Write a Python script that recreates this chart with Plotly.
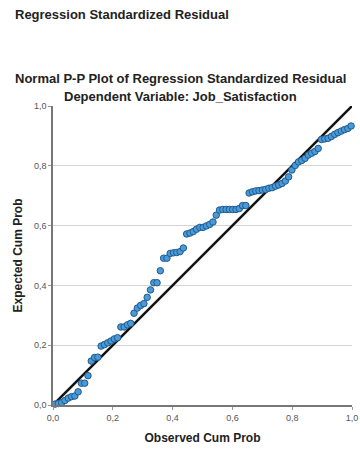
import plotly.graph_objects as go

observed_cum_prob = [
    0.007, 0.018, 0.029, 0.040, 0.051, 0.062, 0.073, 0.084, 0.095, 0.106,
    0.117, 0.128, 0.139, 0.150, 0.161, 0.172, 0.183, 0.194, 0.205, 0.216,
    0.227, 0.238, 0.249, 0.260, 0.271, 0.282, 0.293, 0.304, 0.315, 0.326,
    0.337, 0.348, 0.359, 0.370, 0.381, 0.392, 0.403, 0.414, 0.425, 0.436,
    0.447, 0.458, 0.469, 0.480, 0.491, 0.502, 0.513, 0.524, 0.535, 0.546,
    0.557, 0.568, 0.579, 0.590, 0.601, 0.612, 0.623, 0.634, 0.645, 0.656,
    0.667, 0.678, 0.689, 0.700, 0.711, 0.722, 0.733, 0.744, 0.755, 0.766,
    0.777, 0.788, 0.799, 0.810, 0.821, 0.832, 0.843, 0.854, 0.865, 0.876,
    0.887, 0.898, 0.909, 0.920, 0.931, 0.942, 0.953, 0.964, 0.975, 0.986,
    0.997,
]
expected_cum_prob = [
    0.003, 0.005, 0.008, 0.015, 0.023, 0.028, 0.030, 0.044, 0.073, 0.073,
    0.098, 0.147, 0.159, 0.160, 0.197, 0.202, 0.208, 0.214, 0.221, 0.225,
    0.261, 0.261, 0.268, 0.273, 0.307, 0.324, 0.333, 0.339, 0.360, 0.385,
    0.409, 0.409, 0.449, 0.491, 0.491, 0.507, 0.509, 0.510, 0.513, 0.525,
    0.572, 0.575, 0.580, 0.588, 0.594, 0.594, 0.599, 0.604, 0.612, 0.635,
    0.652, 0.654, 0.654, 0.654, 0.654, 0.654, 0.657, 0.667, 0.667, 0.709,
    0.713, 0.716, 0.717, 0.719, 0.721, 0.725, 0.727, 0.732, 0.736, 0.741,
    0.749, 0.763, 0.786, 0.801, 0.813, 0.818, 0.825, 0.836, 0.842, 0.848,
    0.858, 0.888, 0.890, 0.892, 0.898, 0.905, 0.911, 0.916, 0.921, 0.925,
    0.933,
]
reference_line = [0.0, 1.0]
tick_vals = [0.0, 0.2, 0.4, 0.6, 0.8, 1.0]
tick_text = ["0,0", "0,2", "0,4", "0,6", "0,8", "1,0"]

fig = go.Figure()
fig.add_trace(go.Scatter(
    x=reference_line, y=reference_line, mode="lines",
    line=dict(color="#111111", width=2.5), cliponaxis=False,
    showlegend=False, hoverinfo="skip",
))
fig.add_trace(go.Scatter(
    x=observed_cum_prob, y=expected_cum_prob, mode="markers",
    marker=dict(size=6.5, color="#4a9ad8", line=dict(color="#1f5a8f", width=1)),
    cliponaxis=False, showlegend=False,
))

font_main = "Liberation Sans, Arial, sans-serif"
fig.update_layout(
    width=360, height=450,
    margin=dict(l=53, r=8, t=106, b=45, autoexpand=False),
    paper_bgcolor="white", plot_bgcolor="white",
    font=dict(family=font_main, color="#222222"),
    xaxis=dict(
        range=[0, 1], tickvals=tick_vals, ticktext=tick_text,
        showgrid=False, zeroline=False, showline=True, linecolor="#777777",
        linewidth=1.5, ticks="outside", ticklen=3, tickcolor="#999999",
        tickfont=dict(size=9, color="#555555"), automargin=False,
        title=dict(text="<b>Observed Cum Prob</b>", font=dict(size=12, color="#222222"),
                   standoff=12),
    ),
    yaxis=dict(
        range=[0, 1], tickvals=tick_vals, ticktext=tick_text,
        showgrid=True, gridcolor="#d4d4d4", gridwidth=1, zeroline=False,
        showline=True, linecolor="#777777", linewidth=1.5,
        ticks="outside", ticklen=3, tickcolor="#999999",
        tickfont=dict(size=9, color="#555555"), automargin=False,
        title=dict(text="<b>Expected Cum Prob</b>", font=dict(size=12, color="#222222"),
                   standoff=9),
    ),
    annotations=[
        dict(text="<b>Regression Standardized Residual</b>", xref="paper", yref="paper",
             x=-0.135, y=1.0, xanchor="left", yanchor="bottom", yshift=82,
             showarrow=False, font=dict(size=13, color="#222222")),
        dict(text="<b>Normal P-P Plot of Regression Standardized Residual</b>",
             xref="paper", yref="paper", x=0.425, y=1.0, xanchor="center",
             yanchor="bottom", yshift=18, showarrow=False,
             font=dict(size=13, color="#222222")),
        dict(text="<b>Dependent Variable: Job_Satisfaction</b>",
             xref="paper", yref="paper", x=0.425, y=1.0, xanchor="center",
             yanchor="bottom", yshift=0, showarrow=False,
             font=dict(size=13, color="#222222")),
    ],
)

fig.write_html("out.html", config={"displayModeBar": False},
               post_script="document.body.style.margin='0';")
